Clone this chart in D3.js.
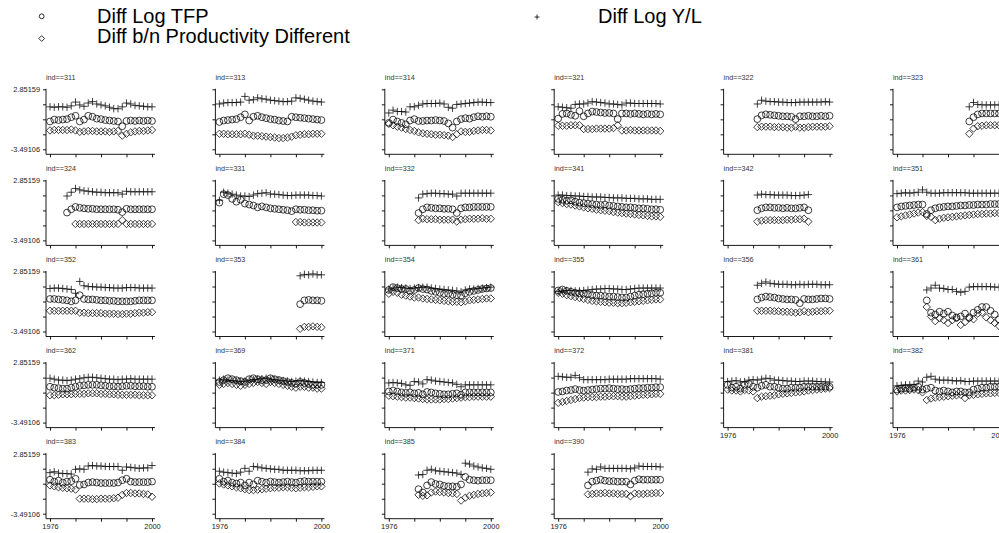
<!DOCTYPE html>
<html><head><meta charset="utf-8">
<script src="https://cdn.jsdelivr.net/npm/d3@7"></script>
<style>html,body{margin:0;padding:0;background:#fff;}svg{display:block;}</style>
</head><body>
<script>
const N = null;
const years = [1976,1977,1978,1979,1980,1981,1982,1983,1984,1985,1986,1987,1988,1989,1990,1991,1992,1993,1994,1995,1996,1997,1998,1999,2000];
const industries = ["311","313","314","321","322","323","324","331","332","341","342","351","352","353","354","355","356","361","362","369","371","372","381","382","383","384","385","390"];
const xTicks = [1976,1982,1988,1994,2000];
const xTickLabels = ["1976","","","","2000"];
const yTicks = [2.85159,1.265178,-0.321335,-1.907848,-3.49106];
const yTickLabels = ["2.85159","","","","-3.49106"];
const legendLabels = ["Diff Log TFP","Diff Log Y/L","Diff b/n Productivity Different"];

const diffLogYL = [
[1.0,0.95,1.0,1.0,0.95,1.1,1.5,1.2,1.05,1.4,1.55,1.3,1.2,1.1,0.95,0.8,0.8,1.0,1.4,1.3,1.15,1.1,1.05,1.0,1.0],
[1.3,1.4,1.45,1.45,1.45,1.5,2.1,1.7,1.75,1.95,1.85,1.8,1.7,1.65,1.6,1.55,1.55,1.6,1.95,1.9,1.8,1.7,1.6,1.55,1.5],
[0.35,0.65,0.5,0.5,0.45,1.0,1.0,1.15,1.3,1.35,1.35,1.35,1.4,1.3,0.95,0.85,1.25,1.3,1.35,1.4,1.45,1.5,1.5,1.45,1.45],
[1.0,0.95,0.9,0.85,1.25,1.3,1.3,1.4,1.55,1.5,1.45,1.4,1.3,1.3,1.25,1.2,1.4,1.4,1.35,1.35,1.35,1.35,1.35,1.35,1.3],
[N,N,N,N,N,N,N,1.3,1.7,1.6,1.55,1.55,1.5,1.5,1.45,1.45,1.45,1.5,1.5,1.5,1.5,1.5,1.5,1.55,1.5],
[N,N,N,N,N,N,N,N,N,N,N,N,N,N,N,N,N,1.0,1.45,1.25,1.2,1.2,1.2,1.2,1.2],
[N,N,N,N,1.2,1.6,2.0,1.85,1.75,1.7,1.65,1.6,1.6,1.55,1.55,1.55,1.55,1.4,1.7,1.65,1.65,1.65,1.65,1.65,1.65],
[0.75,1.6,1.5,1.4,1.3,1.2,1.2,1.15,1.3,1.45,1.5,1.55,1.4,1.4,1.35,1.3,1.25,1.25,1.3,1.3,1.3,1.3,1.25,1.25,1.2],
[N,N,N,N,N,N,N,1.0,1.4,1.45,1.5,1.5,1.45,1.45,1.4,1.4,1.2,1.5,1.5,1.5,1.5,1.5,1.5,1.5,1.5],
[1.3,1.3,1.25,1.25,1.2,1.2,1.15,1.15,1.1,1.1,1.1,1.05,1.05,1.0,1.0,1.0,0.95,0.95,0.95,0.9,0.9,0.9,0.85,0.85,0.85],
[N,N,N,N,N,N,N,1.3,1.4,1.35,1.35,1.3,1.3,1.3,1.3,1.25,1.25,1.25,1.3,1.35,N,N,N,N,N],
[1.45,1.5,1.55,1.5,1.55,1.6,1.85,1.6,1.5,1.5,1.5,1.55,1.55,1.55,1.55,1.55,1.55,1.5,1.5,1.5,1.5,1.5,1.5,1.5,1.5],
[1.05,1.1,1.1,1.05,1.0,0.95,0.55,1.8,1.35,1.25,1.25,1.2,1.2,1.15,1.15,1.1,1.1,1.1,1.15,1.15,1.15,1.1,1.1,1.1,1.1],
[N,N,N,N,N,N,N,N,N,N,N,N,N,N,N,N,N,N,N,2.4,2.55,2.5,2.6,2.5,2.5],
[1.0,1.1,1.2,1.15,1.1,1.05,1.1,1.15,1.2,1.2,1.1,1.05,1.0,0.95,0.9,0.85,0.8,0.7,0.9,1.0,1.0,1.05,1.1,1.15,1.2],
[0.75,0.8,0.85,0.85,0.8,0.8,0.85,0.9,0.95,1.0,1.0,1.05,1.05,1.0,1.0,0.95,0.95,1.0,1.05,1.1,1.1,1.1,1.1,1.1,1.1],
[N,N,N,N,N,N,N,1.4,1.6,1.75,1.6,1.55,1.5,1.5,1.5,1.45,1.45,1.5,1.45,1.5,1.5,1.5,1.45,1.45,1.45],
[N,N,N,N,N,N,N,0.9,1.1,1.4,1.1,1.05,0.95,0.95,0.75,0.65,0.75,1.2,1.25,1.25,1.25,1.25,1.25,1.2,1.2],
[1.2,1.1,1.0,1.0,0.95,1.0,1.1,1.15,1.25,1.3,1.3,1.25,1.2,1.15,1.1,1.1,1.05,1.1,1.1,1.15,1.1,1.1,1.1,1.1,1.1],
[1.0,1.1,1.0,0.95,0.9,0.85,0.9,1.0,1.05,1.1,1.15,1.2,1.1,1.05,1.0,0.95,0.9,0.85,0.9,0.95,0.9,0.85,0.8,0.75,0.75],
[0.7,0.75,0.7,0.65,0.5,0.45,0.85,0.8,0.6,1.05,1.0,0.9,0.85,0.8,0.75,0.7,0.55,0.3,0.5,0.5,0.5,0.5,0.5,0.5,0.5],
[1.4,1.35,1.3,1.3,1.5,1.25,1.05,1.05,1.05,1.05,1.05,1.05,1.1,1.1,1.1,1.1,1.1,1.15,1.15,1.15,1.15,1.15,1.15,1.15,1.1],
[0.85,0.9,0.95,0.8,0.85,1.0,1.05,1.0,1.1,1.2,1.15,1.0,1.0,0.95,0.9,0.9,0.85,0.85,0.9,0.9,0.9,0.85,0.85,0.8,0.8],
[0.4,0.45,0.5,0.5,0.55,0.9,0.8,1.3,1.4,1.1,1.0,1.0,1.0,0.95,0.9,0.95,0.85,0.85,0.9,0.9,0.9,0.9,0.9,0.9,0.9],
[0.85,0.95,0.8,0.75,0.75,0.7,1.2,1.25,1.2,1.55,1.6,1.55,1.55,1.5,1.5,1.5,1.5,1.1,1.45,1.4,1.35,1.3,1.35,1.35,1.6],
[1.0,0.9,0.85,0.8,0.75,0.9,1.3,1.0,1.5,1.45,1.35,1.3,1.25,1.2,1.2,1.1,1.1,1.1,1.1,1.05,1.05,1.05,1.1,1.1,1.1],
[N,N,N,N,N,N,N,0.6,0.65,1.1,1.2,1.05,1.0,0.95,0.9,0.85,0.8,0.65,1.85,1.75,1.55,1.45,1.35,1.3,1.2],
[N,N,N,N,N,N,N,0.9,1.25,1.2,1.45,1.3,1.3,1.3,1.3,1.3,1.3,1.25,1.35,1.55,1.5,1.5,1.5,1.5,1.45]
];
const diffLogTFP = [
[-0.55,-0.35,-0.4,-0.35,-0.3,-0.1,0.05,-0.55,-0.35,0.05,-0.05,-0.25,-0.3,-0.4,-0.45,-0.5,-0.55,-1.05,-0.5,-0.45,-0.5,-0.45,-0.5,-0.45,-0.5],
[-0.6,-0.45,-0.4,-0.35,-0.3,-0.1,0.2,-0.45,-0.05,0.05,-0.1,-0.2,-0.3,-0.35,-0.45,-0.5,-0.55,-0.05,-0.1,-0.15,-0.2,-0.25,-0.3,-0.35,-0.4],
[-0.7,-0.35,-0.55,-0.7,-0.85,-0.45,-0.3,-0.5,-0.5,-0.45,-0.45,-0.4,-0.45,-0.5,-0.75,-1.2,-0.55,-0.3,-0.2,-0.25,-0.1,0.0,-0.05,0.0,-0.05],
[-0.25,0.25,0.3,0.15,0.05,0.55,0.0,0.3,0.5,0.45,0.4,0.35,0.35,0.3,-0.3,0.3,0.3,0.25,0.3,0.25,0.2,0.25,0.2,0.25,0.2],
[N,N,N,N,N,N,N,-0.3,0.1,0.2,0.15,0.1,0.05,0.0,0.0,-0.05,-0.3,0.0,0.0,0.05,0.0,0.0,0.05,0.0,0.05],
[N,N,N,N,N,N,N,N,N,N,N,N,N,N,N,N,N,-0.55,-0.1,0.2,0.3,0.3,0.3,0.3,0.3],
[N,N,N,N,-0.55,-0.2,0.05,-0.05,-0.1,-0.15,-0.15,-0.2,-0.2,-0.2,-0.2,-0.2,-0.25,-0.5,-0.15,-0.2,-0.2,-0.2,-0.2,-0.2,-0.2],
[0.5,1.4,1.3,0.9,0.6,0.8,0.4,0.3,0.2,0.0,0.1,0.0,-0.1,-0.15,-0.2,-0.25,-0.3,-0.4,-0.2,-0.25,-0.25,-0.3,-0.3,-0.35,-0.35],
[N,N,N,N,N,N,N,-0.6,-0.2,0.0,-0.05,-0.1,-0.1,-0.15,-0.15,-0.2,-0.6,-0.1,0.0,0.0,0.05,0.05,0.05,0.05,0.05],
[0.9,0.8,0.7,0.75,0.6,0.5,0.45,0.4,0.35,0.3,0.25,0.3,0.2,0.15,0.1,0.05,0.0,0.0,-0.05,-0.1,-0.1,-0.15,-0.2,-0.2,-0.25],
[N,N,N,N,N,N,N,-0.3,-0.1,0.0,0.0,-0.05,-0.05,-0.1,-0.05,-0.1,-0.1,-0.05,0.0,-0.3,N,N,N,N,N],
[0.0,0.1,0.15,0.2,0.25,0.3,0.3,-0.7,-0.3,-0.1,0.0,0.05,0.1,0.1,0.15,0.2,0.2,0.25,0.25,0.3,0.3,0.3,0.35,0.35,0.35],
[-0.05,-0.05,-0.1,-0.15,-0.2,-0.3,-0.2,0.35,-0.05,-0.1,-0.1,-0.15,-0.2,-0.2,-0.25,-0.25,-0.3,-0.3,-0.3,-0.3,-0.25,-0.2,-0.2,-0.2,-0.2],
[N,N,N,N,N,N,N,N,N,N,N,N,N,N,N,N,N,N,N,-0.6,-0.2,-0.15,-0.2,-0.2,-0.25],
[0.9,1.2,1.1,1.0,1.0,0.8,0.9,1.1,1.0,0.95,0.8,0.7,0.6,0.5,0.5,0.4,0.35,0.3,0.55,0.7,0.8,0.9,1.0,1.05,1.1],
[0.85,0.95,0.8,0.7,0.6,0.55,0.5,0.45,0.35,0.3,0.3,0.25,0.2,0.2,0.15,0.1,0.1,0.2,0.3,0.4,0.45,0.5,0.55,0.6,0.6],
[N,N,N,N,N,N,N,-0.1,0.1,0.2,0.15,0.1,0.0,-0.05,-0.1,-0.1,-0.15,-0.5,-0.05,-0.1,-0.1,-0.05,0.0,0.0,-0.05],
[N,N,N,N,N,N,N,-0.2,-1.5,-1.7,-1.4,-1.6,-1.4,-1.8,-2.0,-1.9,-1.6,-2.0,-1.5,-1.2,-0.9,-0.9,-1.3,-1.7,-2.2],
[0.3,0.2,0.15,0.1,0.1,0.2,0.3,0.4,0.45,0.5,0.5,0.5,0.45,0.4,0.35,0.35,0.3,0.35,0.4,0.4,0.35,0.35,0.35,0.3,0.3],
[0.8,1.0,1.2,1.1,1.0,0.9,0.8,1.1,1.2,1.1,1.0,1.0,1.2,1.1,1.0,0.9,0.8,0.7,0.6,0.8,0.7,0.6,0.5,0.5,0.5],
[-0.2,-0.1,-0.2,-0.3,-0.35,-0.3,-0.4,-0.35,-0.5,-0.25,-0.3,-0.4,-0.45,-0.5,-0.5,-0.45,-0.4,-0.55,-0.3,-0.3,-0.3,-0.3,-0.3,-0.3,-0.3],
[-0.25,-0.2,-0.1,-0.05,0.05,-0.05,-0.1,-0.05,0.0,0.05,0.1,0.1,0.15,0.1,0.05,0.05,0.0,0.05,0.1,0.15,0.15,0.2,0.2,0.25,0.25],
[0.5,0.2,0.3,0.1,0.5,0.6,0.3,0.2,0.4,0.5,0.3,0.3,0.2,0.1,0.1,0.2,0.2,0.2,0.3,0.3,0.3,0.3,0.3,0.3,0.3],
[0.0,0.1,0.15,0.1,0.2,0.3,0.0,0.1,0.2,-0.1,-0.2,-0.1,-0.2,-0.3,-0.2,-0.2,-0.3,-0.3,0.0,0.1,0.2,0.2,0.3,0.3,0.3],
[0.1,-0.1,0.0,-0.2,-0.1,-0.05,0.2,-0.45,-0.4,-0.2,-0.15,-0.2,-0.25,-0.25,-0.25,-0.25,-0.2,0.05,0.2,-0.1,-0.15,-0.15,-0.15,-0.15,-0.1],
[0.2,-0.1,0.0,-0.2,-0.3,-0.2,-0.5,-0.2,-0.4,0.0,-0.1,-0.2,-0.1,-0.15,-0.2,-0.15,-0.1,-0.15,-0.2,-0.1,-0.05,-0.1,-0.1,-0.1,-0.1],
[N,N,N,N,N,N,N,-0.9,-1.25,-0.5,-0.15,-0.35,-0.4,-0.55,-0.6,-0.6,-0.65,-0.4,0.4,0.1,0.05,0.0,0.05,0.05,0.05],
[N,N,N,N,N,N,N,-0.5,-0.1,0.0,0.1,0.0,-0.05,-0.05,-0.1,-0.1,-0.1,-0.4,0.0,0.15,0.1,0.1,0.1,0.1,0.1]
];
const diffProd = [
[-1.5,-1.45,-1.45,-1.45,-1.45,-1.4,-1.5,-1.65,-1.6,-1.55,-1.55,-1.6,-1.6,-1.6,-1.65,-1.6,-1.55,-2.05,-1.85,-1.7,-1.6,-1.55,-1.55,-1.5,-1.45],
[-1.85,-1.85,-1.9,-1.9,-1.9,-1.9,-1.85,-1.95,-2.05,-2.05,-2.1,-2.15,-2.2,-2.25,-2.3,-2.3,-2.25,-2.15,-2.0,-1.95,-1.9,-1.9,-1.85,-1.85,-1.85],
[-0.8,-0.95,-1.1,-1.2,-1.35,-1.45,-1.55,-1.7,-1.8,-1.85,-1.9,-1.95,-1.95,-2.0,-2.05,-2.2,-1.9,-1.6,-1.65,-1.65,-1.55,-1.5,-1.45,-1.45,-1.5],
[-1.0,-1.0,-1.0,-0.95,-0.95,-0.95,-1.35,-1.35,-1.35,-1.3,-1.3,-1.3,-1.3,-1.25,-0.95,-1.5,-1.5,-1.45,-1.5,-1.5,-1.5,-1.5,-1.5,-1.5,-1.55],
[N,N,N,N,N,N,N,-1.15,-1.1,-1.1,-1.1,-1.15,-1.15,-1.15,-1.2,-1.2,-1.1,-1.2,-1.2,-1.15,-1.1,-1.1,-1.1,-1.1,-1.05],
[N,N,N,N,N,N,N,N,N,N,N,N,N,N,N,N,N,-1.85,-1.3,-1.05,-1.0,-0.95,-0.95,-0.95,-0.95],
[N,N,N,N,N,N,-1.75,-1.75,-1.75,-1.75,-1.75,-1.75,-1.75,-1.75,-1.75,-1.75,-1.75,-1.35,-1.75,-1.75,-1.75,-1.75,-1.75,-1.75,-1.75],
[N,N,N,N,N,N,N,N,N,N,N,N,N,N,N,N,N,N,-1.55,-1.55,-1.6,-1.6,-1.6,-1.6,-1.6],
[N,N,N,N,N,N,N,-1.35,-1.2,-1.25,-1.25,-1.25,-1.3,-1.3,-1.3,-1.3,-1.5,-1.3,-1.25,-1.2,-1.2,-1.2,-1.15,-1.2,-1.2],
[0.55,0.45,0.35,0.3,0.2,0.1,0.0,-0.1,-0.15,-0.25,-0.3,-0.35,-0.4,-0.5,-0.55,-0.6,-0.65,-0.7,-0.75,-0.8,-0.85,-0.9,-0.95,-0.95,-1.0],
[N,N,N,N,N,N,N,-1.5,-1.4,-1.35,-1.35,-1.35,-1.35,-1.35,-1.3,-1.3,-1.25,-1.25,-1.2,-1.5,N,N,N,N,N],
[-1.05,-0.95,-0.85,-0.75,-0.65,-0.55,-0.5,-0.9,-1.0,-1.35,-1.2,-1.1,-1.05,-1.0,-0.95,-0.9,-0.85,-0.8,-0.75,-0.7,-0.7,-0.65,-0.65,-0.6,-0.6],
[-1.3,-1.3,-1.3,-1.3,-1.3,-1.3,-1.3,-1.5,-1.5,-1.55,-1.55,-1.55,-1.55,-1.6,-1.6,-1.6,-1.65,-1.65,-1.6,-1.6,-1.55,-1.5,-1.5,-1.45,-1.45],
[N,N,N,N,N,N,N,N,N,N,N,N,N,N,N,N,N,N,N,-3.2,-3.0,-3.0,-2.95,-3.0,-3.05],
[0.5,0.7,0.6,0.4,0.3,0.2,0.1,0.1,0.0,-0.05,-0.1,-0.15,-0.2,-0.25,-0.3,-0.35,-0.35,-0.4,-0.3,-0.2,-0.15,-0.1,-0.05,0.0,0.0],
[0.6,0.5,0.35,0.25,0.15,0.05,-0.05,-0.15,-0.25,-0.3,-0.35,-0.4,-0.45,-0.45,-0.5,-0.5,-0.45,-0.4,-0.35,-0.3,-0.25,-0.2,-0.15,-0.1,-0.1],
[N,N,N,N,N,N,N,-1.3,-1.3,-1.3,-1.3,-1.35,-1.35,-1.4,-1.4,-1.45,-1.5,-1.45,-1.35,-1.45,-1.4,-1.35,-1.35,-1.3,-1.3],
[N,N,N,N,N,N,N,-0.9,-1.9,-2.4,-2.1,-2.3,-2.6,-2.3,-2.1,-2.8,-2.5,-2.1,-2.2,-1.6,-1.5,-2.0,-2.3,-2.6,-2.9],
[-0.6,-0.6,-0.55,-0.5,-0.5,-0.5,-0.45,-0.45,-0.45,-0.4,-0.4,-0.4,-0.45,-0.45,-0.5,-0.5,-0.55,-0.55,-0.55,-0.55,-0.55,-0.6,-0.6,-0.6,-0.6],
[0.5,0.6,0.7,0.6,0.5,0.4,0.5,0.6,0.7,0.8,0.7,0.6,0.8,0.7,0.6,0.5,0.4,0.3,0.2,0.3,0.3,0.2,0.2,0.1,0.1],
[-0.65,-0.7,-0.75,-0.8,-0.85,-0.85,-0.9,-0.95,-1.0,-1.05,-1.05,-1.05,-1.05,-1.0,-1.0,-0.95,-0.9,-0.85,-0.8,-0.8,-0.75,-0.75,-0.75,-0.75,-0.75],
[-1.4,-1.3,-1.2,-1.1,-1.0,-0.9,-0.85,-0.8,-0.8,-0.8,-0.75,-0.75,-0.7,-0.7,-0.7,-0.75,-0.75,-0.7,-0.65,-0.6,-0.55,-0.55,-0.5,-0.45,-0.45],
[0.0,-0.1,-0.1,-0.2,-0.05,-0.1,-0.2,-0.9,-0.75,-0.7,-0.65,-0.6,-0.5,-0.45,-0.4,-0.35,-0.3,-0.25,-0.2,-0.1,-0.05,0.0,0.05,0.1,0.15],
[-0.2,-0.1,-0.1,-0.05,0.0,-0.05,-0.3,-1.1,-0.95,-0.85,-0.8,-0.75,-0.7,-0.65,-0.6,-0.55,-0.9,-0.6,-0.55,-0.5,-0.45,-0.4,-0.4,-0.35,-0.35],
[-0.5,-0.6,-0.7,-0.75,-0.8,-0.85,-0.95,-1.9,-1.9,-1.9,-1.95,-1.95,-1.9,-1.9,-1.9,-1.85,-1.8,-1.5,-1.3,-1.3,-1.35,-1.35,-1.4,-1.45,-1.7],
[-0.3,-0.4,-0.5,-0.6,-0.7,-0.8,-0.9,-1.0,-1.0,-0.95,-0.9,-0.85,-0.8,-0.75,-0.75,-0.7,-0.7,-0.75,-0.8,-0.75,-0.7,-0.7,-0.65,-0.6,-0.6],
[N,N,N,N,N,N,N,-1.5,-1.6,-1.55,-1.25,-1.15,-1.2,-1.25,-1.3,-1.35,-1.4,-2.1,-1.8,-1.6,-1.5,-1.4,-1.35,-1.3,-1.25],
[N,N,N,N,N,N,N,-1.45,-1.4,-1.35,-1.35,-1.3,-1.35,-1.35,-1.4,-1.4,-1.4,-1.65,-1.35,-1.4,-1.4,-1.35,-1.35,-1.3,-1.3]
];

const W = 999, H = 533;
const svg = d3.select("body").append("svg").attr("width", W).attr("height", H);
const font = "'Liberation Sans', Arial, Helvetica, sans-serif";

const nCols = 6, colX0 = 46, colStep = 169.4, rowY0 = 89.3, rowStep = 91.1;
const plotH = 60, axisGap = 5, xLeftPad = 4, xSpan = 102, xRightPad = 3;

function circlePath(r){ return `M${-r},0A${r},${r} 0 1,0 ${r},0A${r},${r} 0 1,0 ${-r},0Z`; }
function diamondPath(s){ return `M0,${-s}L${s},0L0,${s}L${-s},0Z`; }
function plusPath(s){ return `M${-s},0H${s}M0,${-s}V${s}`; }
const markers = [
  {key:"tfp", data: diffLogTFP, path: circlePath(3.4)},
  {key:"yl", data: diffLogYL, path: plusPath(3.7)},
  {key:"pd", data: diffProd, path: diamondPath(3.7)}
];

// legend
const lg = svg.append("g").attr("font-family", font).attr("font-size", 20).attr("fill", "#000");
lg.append("path").attr("d", circlePath(2.4)).attr("transform","translate(41.7,16.3)").attr("fill","none").attr("stroke","#000").attr("stroke-width",0.8);
lg.append("text").attr("x",97).attr("y",22.7).text(legendLabels[0]);
lg.append("path").attr("d", plusPath(2.5)).attr("transform","translate(537,17)").attr("fill","none").attr("stroke","#000").attr("stroke-width",0.8);
lg.append("text").attr("x",598).attr("y",22.7).text(legendLabels[1]);
lg.append("path").attr("d", diamondPath(2.9)).attr("transform","translate(41.7,38.5)").attr("fill","none").attr("stroke","#000").attr("stroke-width",0.8);
lg.append("text").attr("x",97).attr("y",42.7).text(legendLabels[2]);

industries.forEach((ind, i) => {
  const col = i % nCols, row = Math.floor(i / nCols);
  const ax = colX0 + col * colStep;
  const top = rowY0 + row * rowStep;
  const x = d3.scaleLinear().domain([years[0], years[years.length-1]]).range([ax + xLeftPad, ax + xLeftPad + xSpan]);
  const y = d3.scaleLinear().domain([yTicks[yTicks.length-1], yTicks[0]]).range([top + plotH, top]);
  const xAxisY = top + plotH + axisGap;
  const g = svg.append("g");

  g.append("text").attr("x", ax).attr("y", top - 9.5).attr("font-family", font).attr("font-size", 7.2).attr("fill", "#333").text("ind==" + ind);

  const showY = col === 0;
  const yAx = d3.axisLeft(y).tickValues(yTicks).tickSize(3).tickPadding(3)
    .tickFormat((d,k) => showY ? yTickLabels[k] : "");
  const yg = g.append("g").attr("transform", `translate(${ax},0)`).call(yAx);
  yg.select(".domain").attr("d", `M0,${top - 0.5}V${xAxisY}`);
  const showX = i + nCols >= industries.length;
  const xAx = d3.axisBottom(x).tickValues(xTicks).tickSize(3).tickPadding(2)
    .tickFormat((d,k) => showX ? xTickLabels[k] : "");
  const xg = g.append("g").attr("transform", `translate(0,${xAxisY})`).call(xAx);
  xg.select(".domain").attr("d", `M${ax},0H${ax + xLeftPad + xSpan + xRightPad}`);
  [yg, xg].forEach(a => {
    a.selectAll(".domain").attr("stroke","#000").attr("stroke-width",0.9);
    a.selectAll(".tick line").attr("stroke","#000").attr("stroke-width",0.9);
    a.selectAll(".tick text").attr("font-family", font).attr("font-size", 7.4).attr("fill","#222");
  });

  markers.forEach(m => {
    const pts = years.map((yr, k) => ({yr, v: m.data[i][k]})).filter(p => p.v !== null);
    g.append("g").selectAll("path").data(pts).join("path")
      .attr("d", m.path)
      .attr("transform", p => `translate(${x(p.yr)},${y(p.v)})`)
      .attr("fill", "none").attr("stroke", "#000").attr("stroke-width", 0.75);
  });
});
</script>
</body></html>
